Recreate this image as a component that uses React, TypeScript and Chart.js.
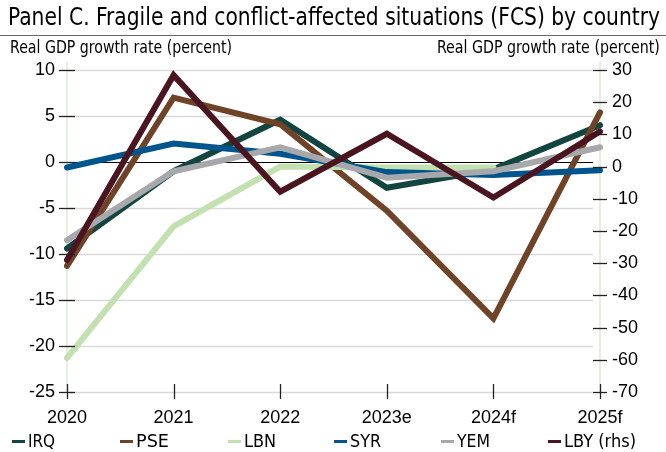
import React, { useEffect, useLayoutEffect, useRef } from "react";
import { Chart, registerables } from "chart.js";

Chart.register(...registerables);

const categories = ["2020", "2021", "2022", "2023e", "2024f", "2025f"];
const IRQ = [-9.4, -1.0, 4.6, -2.8, -0.8, 4.0];
const PSE = [-11.3, 7.0, 4.1, -5.3, -17.0, 5.4];
const LBN = [-21.3, -7.0, -0.5, -0.6, -0.6, null];
const SYR = [-0.6, 2.0, 0.9, -1.1, -1.4, -0.9];
const YEM = [-8.5, -1.0, 1.6, -1.7, -1.0, 1.6];
const LBY = [-29.0, 28.4, -7.8, 10.2, -9.6, 10.9];

const seriesNames = ["IRQ", "PSE", "LBN", "SYR", "YEM", "LBY (rhs)"];
const seriesColors = ["#12453f", "#6f4328", "#c2e0b0", "#00558c", "#a6a8ab", "#4a1520"];
const leftTicks = [10, 5, 0, -5, -10, -15, -20, -25];
const rightTicks = [30, 20, 10, 0, -10, -20, -30, -40, -50, -60, -70];

const titleText = "Panel C. Fragile and conflict-affected situations (FCS) by country";
const axisTitleText = "Real GDP growth rate (percent)";

const condensed = '"Liberation Sans Narrow", "DejaVu Sans Condensed", "Roboto Condensed", sans-serif';
const tickFont = '"Liberation Sans", Arial, sans-serif';

const axisPlugin = {
  id: "customAxes",
  beforeDatasetsDraw(chart: any) {
    const { ctx, chartArea, scales } = chart;
    const y = scales.y;
    ctx.save();
    leftTicks.forEach((v) => {
      const py = Math.round(y.getPixelForValue(v)) + 0.5;
      ctx.beginPath();
      ctx.strokeStyle = v === 0 ? "#000000" : "#d9d9d9";
      ctx.lineWidth = v === 0 ? 1 : 1.5;
      ctx.moveTo(chartArea.left, py);
      ctx.lineTo(chartArea.right - 7, py);
      ctx.stroke();
    });
    ctx.strokeStyle = "#dfe7d4";
    ctx.lineWidth = 1.5;
    [chartArea.left, chartArea.right].forEach((x) => {
      ctx.beginPath();
      ctx.moveTo(x, chartArea.top - 8);
      ctx.lineTo(x, chartArea.bottom);
      ctx.stroke();
    });
    ctx.restore();
  },
  afterDraw(chart: any) {
    const { ctx, chartArea, scales } = chart;
    const y = scales.y;
    const y1 = scales.y1;
    const x = scales.x;
    ctx.save();
    ctx.strokeStyle = "#222222";
    ctx.lineWidth = 1.3;
    leftTicks.forEach((v) => {
      const py = Math.round(y.getPixelForValue(v)) + 0.5;
      ctx.beginPath();
      ctx.moveTo(chartArea.left - 8, py);
      ctx.lineTo(chartArea.left + 8, py);
      ctx.stroke();
    });
    rightTicks.forEach((v) => {
      const py = Math.round(y1.getPixelForValue(v)) + 0.5;
      ctx.beginPath();
      ctx.moveTo(chartArea.right - 7, py);
      ctx.lineTo(chartArea.right + 7, py);
      ctx.stroke();
    });
    categories.forEach((_c, i) => {
      const px = Math.round(x.getPixelForValue(i)) + 0.5;
      ctx.beginPath();
      ctx.moveTo(px, chartArea.bottom - 8);
      ctx.lineTo(px, chartArea.bottom + 7);
      ctx.stroke();
    });
    ctx.restore();
  },
};

function FitText(props: { text: string; width: number; left?: number; right?: number; top: number; size: number; lh: number }) {
  const ref = useRef<HTMLSpanElement | null>(null);
  useLayoutEffect(() => {
    const el = ref.current;
    if (!el) return;
    el.style.transform = "none";
    const w = el.getBoundingClientRect().width;
    if (w > 0) el.style.transform = `scaleX(${props.width / w})`;
  }, [props.text, props.width]);
  const style: any = {
    position: "absolute",
    top: props.top,
    fontFamily: condensed,
    fontSize: props.size,
    lineHeight: `${props.lh}px`,
    color: "#000",
    whiteSpace: "nowrap",
    display: "inline-block",
  };
  if (props.left !== undefined) {
    style.left = props.left;
    style.transformOrigin = "left top";
  } else {
    style.right = props.right;
    style.transformOrigin = "right top";
  }
  return (
    <span ref={ref} style={style}>
      {props.text}
    </span>
  );
}

export default function App() {
  const canvasRef = useRef<HTMLCanvasElement | null>(null);

  useEffect(() => {
    if (!canvasRef.current) return;
    const all = [IRQ, PSE, LBN, SYR, YEM, LBY];
    const chart = new Chart(canvasRef.current, {
      type: "line",
      data: {
        labels: categories,
        datasets: all.map((d, i) => ({
          label: seriesNames[i],
          data: d,
          borderColor: seriesColors[i],
          backgroundColor: seriesColors[i],
          borderWidth: 6,
          pointRadius: 0,
          borderCapStyle: "round" as const,
          borderJoinStyle: "miter" as const,
          tension: 0,
          yAxisID: i === 5 ? "y1" : "y",
          order: all.length - 1 - i,
          spanGaps: false,
        })),
      },
      options: {
        animation: false,
        responsive: false,
        maintainAspectRatio: false,
        layout: { padding: { top: 70, left: 0, right: 0, bottom: 0 } },
        plugins: {
          legend: { display: false },
          title: { display: false },
          tooltip: { enabled: false },
        },
        scales: {
          x: {
            type: "category",
            offset: false,
            grid: { display: false, drawTicks: false },
            border: { display: false },
            ticks: {
              color: "#000",
              font: { family: tickFont, size: 18 },
              padding: 15,
              maxRotation: 0,
              autoSkip: false,
            },
            afterFit(scale: any) {
              scale.height = 60;
            },
          },
          y: {
            position: "left",
            min: -25,
            max: 10,
            afterBuildTicks(scale: any) {
              scale.ticks = leftTicks.map((v) => ({ value: v }));
            },
            grid: { display: false, drawTicks: false },
            border: { display: false },
            ticks: {
              color: "#000",
              font: { family: tickFont, size: 18 },
              padding: 12,
            },
            afterFit(scale: any) {
              scale.width = 67;
            },
          },
          y1: {
            position: "right",
            min: -70,
            max: 30,
            afterBuildTicks(scale: any) {
              scale.ticks = rightTicks.map((v) => ({ value: v }));
            },
            grid: { display: false, drawTicks: false },
            border: { display: false },
            ticks: {
              color: "#000",
              font: { family: tickFont, size: 18 },
              padding: 12,
            },
            afterFit(scale: any) {
              scale.width = 66;
            },
          },
        },
      },
      plugins: [axisPlugin],
    });
    return () => chart.destroy();
  }, []);

  const legendX = [12, 120, 228, 334, 441, 548];
  const legendW = [27, 33, 32, 31, 33, 72];

  return (
    <div style={{ position: "absolute", left: 0, top: 0, width: 666, height: 452, background: "#fff", overflow: "hidden" }}>
      <canvas ref={canvasRef} width={666} height={452} style={{ position: "absolute", left: 0, top: 0, width: 666, height: 452 }} />
      <FitText text={titleText} width={652} left={8} top={2} size={25} lh={30} />
      <div style={{ position: "absolute", left: 0, top: 35, width: 666, height: 1, background: "#666" }} />
      <FitText text={axisTitleText} width={222} left={10} top={37} size={17} lh={20} />
      <FitText text={axisTitleText} width={223} right={6} top={37} size={17} lh={20} />
      {seriesNames.map((n, i) => (
        <React.Fragment key={n}>
          <span style={{ position: "absolute", left: legendX[i], top: 440, width: 13, height: 3, background: seriesColors[i] }} />
          <FitText text={n} width={legendW[i]} left={legendX[i] + 16} top={431} size={17} lh={20} />
        </React.Fragment>
      ))}
    </div>
  );
}
